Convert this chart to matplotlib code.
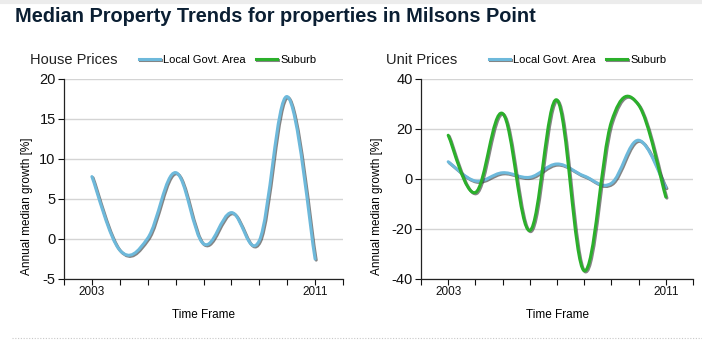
import matplotlib
matplotlib.use("Agg")
import matplotlib.pyplot as plt
import matplotlib.patheffects as pe
from matplotlib.path import Path
from matplotlib.patches import PathPatch
from matplotlib.lines import Line2D

plt.rcParams['font.family'] = ['Liberation Sans', 'DejaVu Sans']
plt.rcParams['axes.unicode_minus'] = False

# data
years = [2003, 2004, 2005, 2006, 2007, 2008, 2009, 2010, 2011]
house_lga = [7.8, -1.4, 0.1, 8.3, -0.6, 3.3, -0.2, 17.8, -2.5]
unit_lga = [6.9, -0.8, 2.5, 0.7, 6.0, 1.2, -1.7, 15.5, -3.4]
unit_suburb = [17.5, -5.4, 26.2, -20.6, 31.6, -36.7, 22.9, 29.6, -7.2]

blue = '#6DB9DB'
green = '#2BB02B'
tension = 0.55


def spline_path(xs, ys, t=tension):
    # cardinal spline -> cubic bezier segments
    pts = list(zip(xs, ys))
    n = len(pts)
    verts = [pts[0]]
    codes = [Path.MOVETO]
    for i in range(n - 1):
        p0 = pts[max(i - 1, 0)]
        p1 = pts[i]
        p2 = pts[i + 1]
        p3 = pts[min(i + 2, n - 1)]
        c1 = (p1[0] + t / 3 * (p2[0] - p0[0]), p1[1] + t / 3 * (p2[1] - p0[1]))
        c2 = (p2[0] - t / 3 * (p3[0] - p1[0]), p2[1] - t / 3 * (p3[1] - p1[1]))
        verts += [c1, c2, p2]
        codes += [Path.CURVE4] * 3
    return Path(verts, codes)


def shadow():
    return [pe.Stroke(offset=(0.8, -0.8), foreground='#333333', alpha=0.6),
            pe.Normal()]


def draw_series(ax, ys, color):
    p = PathPatch(spline_path(years, ys), fill=False, edgecolor=color,
                  lw=2.2, capstyle='round', joinstyle='round',
                  path_effects=shadow(), zorder=3)
    ax.add_patch(p)


fig = plt.figure(figsize=(7.02, 3.57), dpi=100)
fig.text(15 / 702, 1 - 17 / 357, 'Median Property Trends for properties in Milsons Point',
         fontsize=14.4, fontweight='bold', color='#0b1f33', va='center', ha='left')

# faint top border and dotted separator
fig.add_artist(Line2D([0, 1], [1 - 1.5 / 357] * 2, color='#ececec', lw=3))
fig.add_artist(Line2D([12 / 702, 1], [1 - 338 / 357] * 2, color='#c8c8c8', lw=0.8,
                      ls=(0, (1, 1.5))))

panels = [
    dict(rect=[64 / 702, 1 - 279 / 357, 279 / 702, 200 / 357], title='House Prices',
         tx=30, ylim=(-5, 20), step=5, series=[(house_lga, blue)], lx=139, ylx=27),
    dict(rect=[421 / 702, 1 - 279 / 357, 272 / 702, 200 / 357], title='Unit Prices',
         tx=386, ylim=(-40, 40), step=20,
         series=[(unit_lga, blue), (unit_suburb, green)], lx=489, ylx=377),
]

for pnl in panels:
    ax = fig.add_axes(pnl['rect'])
    for ys, c in pnl['series']:
        draw_series(ax, ys, c)
    ax.set_xlim(2002, 2012)
    ax.set_ylim(*pnl['ylim'])
    lo, hi = pnl['ylim']
    ax.set_yticks(list(range(lo, hi + 1, pnl['step'])))
    ax.set_xticks(list(range(2002, 2013)))
    ax.set_xticklabels(['2003' if y == 2003 else '2011' if y == 2011 else '' for y in range(2002, 2013)])
    ax.tick_params(axis='y', labelsize=10.5, length=4, width=0.8, pad=2, colors='#111111')
    ax.tick_params(axis='x', labelsize=8.5, length=4, width=0.8, pad=1, colors='#111111')
    ax.grid(axis='y', color='#d4d4d4', lw=1)
    ax.set_axisbelow(True)
    for s in ['top', 'right']:
        ax.spines[s].set_visible(False)
    for s in ['left', 'bottom']:
        ax.spines[s].set_color('#222222')
        ax.spines[s].set_linewidth(0.9)
    ax.set_xlabel('Time Frame', fontsize=8.5, labelpad=8)
    fig.text(pnl['tx'] / 702, 1 - 60 / 357, pnl['title'], fontsize=10.5, va='center',
             ha='left', color='#222222')
    fig.text(pnl['ylx'] / 702, 1 - 206 / 357, 'Annual median growth [%]', fontsize=8.5,
             rotation=90, va='center', ha='center')
    handles = [Line2D([], [], color=blue, lw=2.2, path_effects=shadow()),
               Line2D([], [], color=green, lw=2.2, path_effects=shadow())]
    fig.legend(handles, ['Local Govt. Area', 'Suburb'], loc='center left',
               bbox_to_anchor=(pnl['lx'] / 702, 1 - 60 / 357), ncol=2, frameon=False,
               fontsize=8, handlelength=1.9, handletextpad=0.3, columnspacing=0.9,
               borderpad=0, borderaxespad=0)

fig.savefig('out.png', dpi=100)
